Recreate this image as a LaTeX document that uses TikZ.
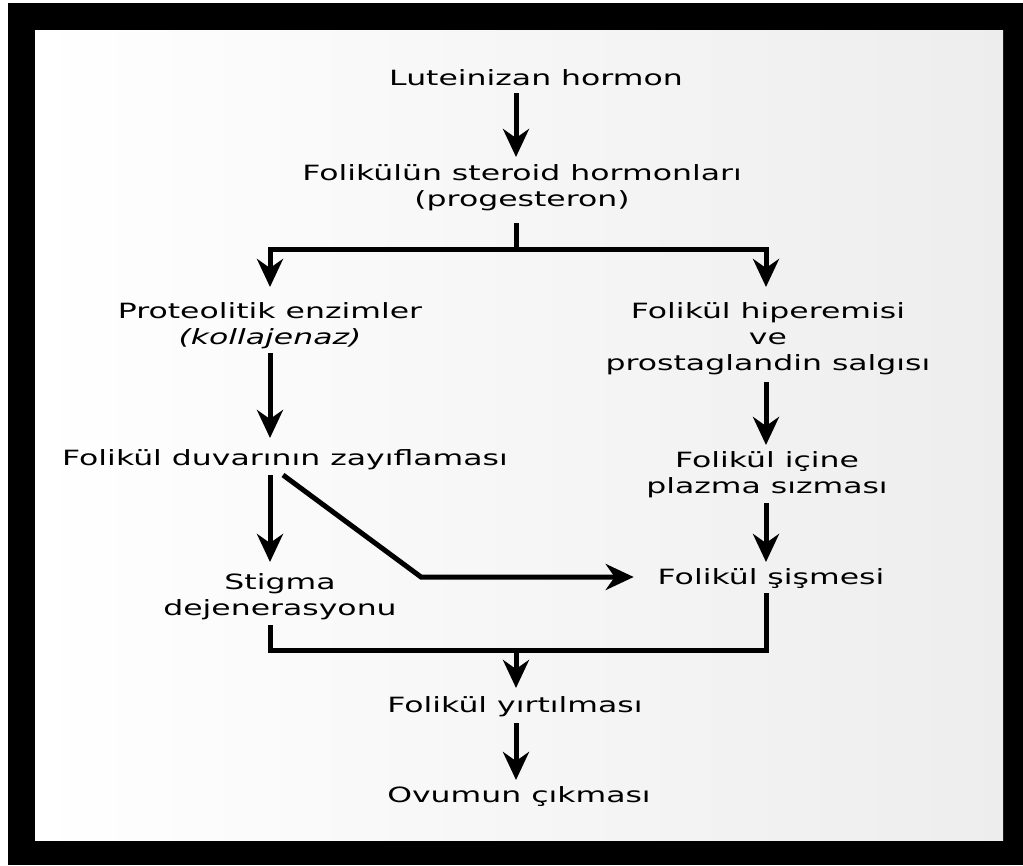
\documentclass[tikz,border=0pt]{standalone}
\usepackage{fontspec}
\setmainfont[FakeStretch=1.5]{DejaVu Sans}
\usetikzlibrary{arrows.meta}
\newcommand\lstrut{\rule[-5pt]{0pt}{21pt}}
\tikzset{
  lbl/.style={anchor=north, inner sep=0pt, outer sep=0pt, align=center,
              font=\fontsize{21pt}{26pt}\selectfont},
  conn/.style={line width=5pt, draw=black},
  arr/.style={conn, -{Stealth[length=28pt,width=26pt,inset=9pt]}},
}
\begin{document}
\begin{tikzpicture}[x=1pt,y=-1pt]
\useasboundingbox (0,0) rectangle (1023,865);
\fill[white] (0,0) rectangle (1023,865);
\fill[black] (8,3) rectangle (1023,865);
\shade[left color=white, right color=black!7] (35,30) rectangle (1003,840);

% column guides
\coordinate (colL) at (270,0);
\coordinate (colM) at (516,0);
\coordinate (colR) at (766,0);
\coordinate (j1) at (516,249);
\coordinate (k1) at (421,577);
\coordinate (j2) at (516,650);

% nodes
\node[lbl] (lh)  at (536,69.5)  {\lstrut Luteinizan hormon};
\node[lbl] (fs)  at (522,164.5) {\lstrut Folikülün steroid hormonları\\\lstrut (progesteron)};
\node[lbl] (pe)  at (270,302.5) {\lstrut Proteolitik enzimler\\\lstrut\textit{(kollajenaz)}};
\node[lbl] (fh)  at (768,302.5) {\lstrut Folikül hiperemisi\\\lstrut ve\\\lstrut prostaglandin salgısı};
\node[lbl] (fd)  at (285,449.5) {\lstrut Folikül duvarının zayıflaması};
\node[lbl] (fi)  at (767,451.5) {\lstrut Folikül içine\\\lstrut plazma sızması};
\node[lbl] (sd)  at (280,573)   {\lstrut Stigma\\\lstrut dejenerasyonu};
\node[lbl] (fsm) at (771,568.5) {\lstrut Folikül şişmesi};
\node[lbl] (fy)  at (515,696.5) {\lstrut Folikül yırtılması};
\node[lbl] (oc)  at (519,786.5) {\lstrut Ovumun çıkması};

% connectors
\draw[arr, shorten <=2.5pt, shorten >=7.5pt] (lh.south -| colM) -- (fs.north -| colM);
\draw[conn, shorten <=11.5pt] (fs.south -| colM) -- (j1);
\draw[arr, shorten >=15.5pt] (j1) -| (pe.north -| colL);
\draw[arr, shorten >=15.5pt] (j1) -| (fh.north -| colR);
\draw[arr, shorten <=3.5pt, shorten >=11.5pt] (pe.south -| colL) -- (fd.north -| colL);
\draw[arr, shorten <=6.5pt, shorten >=6.5pt] (fh.south -| colR) -- (fi.north -| colR);
\draw[arr, shorten <=4.5pt, shorten >=11pt] (fd.south -| colL) -- (sd.north -| colL);
\draw[arr, shorten >=24pt] ([xshift=-2pt,yshift=-4.5pt]fd.south) -- (k1) -- (k1 -| fsm.west);
\draw[arr, shorten <=4.5pt, shorten >=6.5pt] (fi.south -| colR) -- (fsm.north -| colR);
\draw[conn, shorten <=3.5pt, shorten >=5pt] (fsm.south -| colR) -- (colR |- j2) -- (colL |- j2) -- (sd.south -| colL);
\draw[arr, shorten >=8.5pt] (j2) -- (fy.north -| j2);
\draw[arr, shorten <=5.5pt, shorten >=6.5pt] (fy.south -| colM) -- (oc.north -| colM);
\end{tikzpicture}
\end{document}
